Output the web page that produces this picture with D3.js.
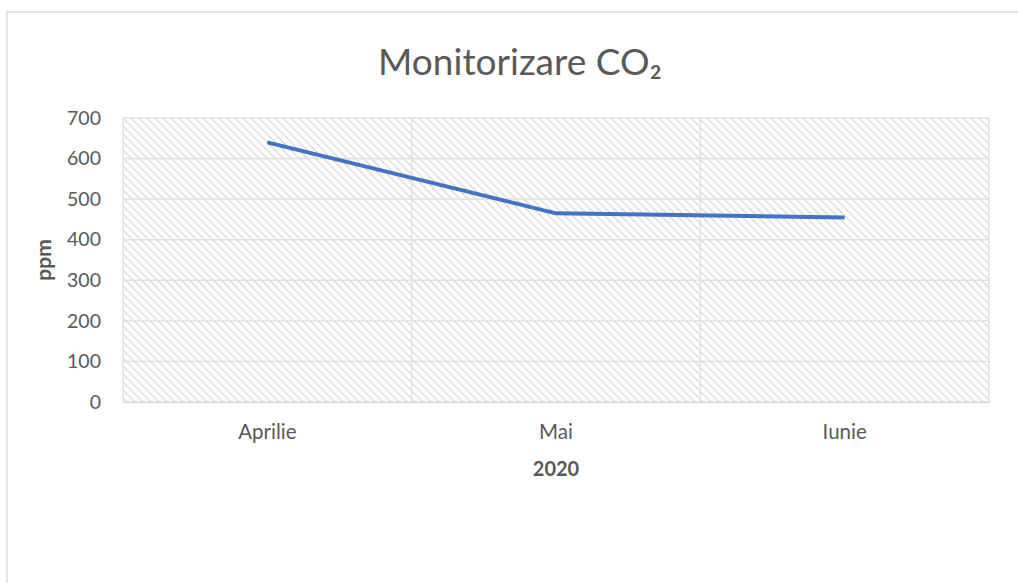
<!DOCTYPE html>
<html>
<head>
<meta charset="utf-8">
<script src="https://cdn.jsdelivr.net/npm/d3@7"></script>
<style>
  html, body { margin: 0; padding: 0; background: #fff; }
  svg { display: block; font-family: Lato, "Open Sans", sans-serif; }
</style>
</head>
<body>
<svg id="chart" width="1018" height="583"></svg>
<script>
const categories = ["Aprilie", "Mai", "Iunie"];
const values = [640, 465, 455];
const yTicks = [0, 100, 200, 300, 400, 500, 600, 700];
const titleText = "Monitorizare CO₂";
const xTitle = "2020";
const yTitle = "ppm";

const svg = d3.select("#chart");
const W = 1018, H = 583;
const m = { left: 123, right: W - 989, top: 118, bottom: H - 402 };
const iw = W - m.left - m.right, ih = H - m.top - m.bottom;

// outer chart border
svg.append("rect")
  .attr("x", 7).attr("y", 12).attr("width", 1030).attr("height", 600)
  .attr("fill", "#fff").attr("stroke", "#d9d9d9").attr("stroke-width", 1.5);

// pattern
const defs = svg.append("defs");
const pat = defs.append("pattern")
  .attr("id", "hatch").attr("patternUnits", "userSpaceOnUse")
  .attr("width", 8).attr("height", 8);
pat.append("rect").attr("width", 8).attr("height", 8).attr("fill", "#fff");
pat.append("path")
  .attr("d", "M-2,-2 L10,10 M-2,6 L2,10 M6,-2 L10,2")
  .attr("stroke", "#dadada").attr("stroke-width", 1.4);

const x = d3.scaleBand().domain(categories).range([0, iw]).padding(0);
const y = d3.scaleLinear().domain([0, 700]).range([ih, 0]);

const g = svg.append("g").attr("transform", `translate(${m.left},${m.top})`);

g.append("rect").attr("width", iw).attr("height", ih).attr("fill", "url(#hatch)");

// horizontal gridlines
g.append("g").selectAll("line").data(yTicks).join("line")
  .attr("x1", 0).attr("x2", iw)
  .attr("y1", d => y(d)).attr("y2", d => y(d))
  .attr("stroke", "#e0e0e0").attr("stroke-width", 1.5);

// vertical gridlines at category boundaries
const bounds = categories.map(c => x(c)).concat([iw]);
g.append("g").selectAll("line").data(bounds).join("line")
  .attr("x1", d => d).attr("x2", d => d)
  .attr("y1", 0).attr("y2", ih)
  .attr("stroke", "#e0e0e0").attr("stroke-width", 1.5);

// y axis labels
const yAxis = d3.axisLeft(y).tickValues(yTicks).tickSize(0).tickPadding(22);
const ya = g.append("g").call(yAxis);
ya.select(".domain").remove();
ya.selectAll("text").attr("font-size", 19.5).attr("fill", "#595959")
  .attr("font-family", "Lato, sans-serif");

// x axis labels
const xAxis = d3.axisBottom(x).tickSize(0).tickPadding(22);
const xa = g.append("g").attr("transform", `translate(0,${ih})`).call(xAxis);
xa.select(".domain").attr("stroke", "#d9d9d9").attr("stroke-width", 1.5);
xa.selectAll("text").attr("font-size", 20.5).attr("fill", "#595959")
  .attr("font-family", "Lato, sans-serif");

// line
const line = d3.line()
  .x((d, i) => x(categories[i]) + x.bandwidth() / 2)
  .y(d => y(d));
g.append("path").datum(values)
  .attr("d", line).attr("fill", "none")
  .attr("stroke", "#4472C4").attr("stroke-width", 4)
  .attr("stroke-linejoin", "round").attr("stroke-linecap", "butt");

// title
svg.append("text").attr("x", 520).attr("y", 75)
  .attr("text-anchor", "middle").attr("font-size", 37)
  .attr("fill", "#595959").text(titleText);

// axis titles
svg.append("text").attr("x", m.left + iw / 2).attr("y", 476)
  .attr("text-anchor", "middle").attr("font-size", 20).attr("font-weight", "bold")
  .attr("fill", "#595959").text(xTitle);

svg.append("text")
  .attr("transform", `translate(51,${m.top + ih / 2}) rotate(-90)`)
  .attr("text-anchor", "middle").attr("font-size", 21).attr("font-weight", "bold")
  .attr("fill", "#595959").text(yTitle);
</script>
</body>
</html>
